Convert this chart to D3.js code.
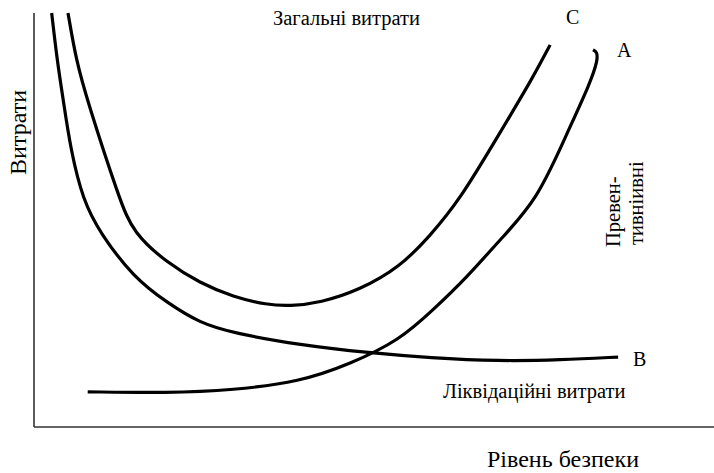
<!DOCTYPE html>
<html>
<head>
<meta charset="utf-8">
<script src="https://cdn.jsdelivr.net/npm/d3@7"></script>
</head>
<body style="margin:0">
<script>
// curve points, x = рівень безпеки (0..100), y = витрати (0..100)
var liqX = [2.6, 3.4, 4.3, 5.4, 7.2, 9.7, 14.6, 19.6, 24.4, 29.3, 39.1, 49.4, 58.2, 68.5, 77.4, 85.9];
var liqY = [100, 88.6, 79.0, 66.9, 54.8, 46.9, 36.2, 30.0, 25.1, 22.7, 19.8, 17.9, 16.7, 15.9, 16.2, 16.9];

var totX = [5.0, 6.2, 7.8, 12.6, 14.6, 19.6, 24.4, 29.3, 34.3, 37.6, 42.1, 47.9, 53.8, 58.2, 62.6, 68.5, 73.4, 75.9];
var totY = [100, 88.6, 79.0, 54.8, 46.9, 39.6, 34.8, 31.4, 29.5, 29.2, 30.0, 33.1, 38.6, 46.1, 54.8, 71.0, 84.5, 92.3];

var prevX = [7.9, 19.6, 29.3, 39.1, 46.5, 53.8, 58.7, 63.7, 68.5, 74.0, 78.4, 81.8, 82.9, 82.8, 82.2];
var prevY = [8.5, 8.2, 8.9, 10.9, 15.2, 21.0, 28.3, 36.2, 45.2, 54.8, 71.0, 83.1, 88.6, 90.6, 91.1];

var labels = ["Загальні витрати", "Ліквідаційні витрати", "Превен-", "тивніивні", "C", "A", "B"];
var axisTitles = ["Рівень безпеки", "Витрати"];

var W = 714, H = 473;
var svg = d3.select("body").append("svg").attr("width", W).attr("height", H);

var x = d3.scaleLinear().domain([0, 100]).range([34, 714]);
var y = d3.scaleLinear().domain([0, 100]).range([427, 13]);

// axis lines, no ticks
svg.append("line")
  .attr("x1", x(0)).attr("x2", x(100)).attr("y1", y(0)).attr("y2", y(0))
  .attr("stroke", "#333").attr("stroke-width", 1.6);
svg.append("line")
  .attr("x1", x(0)).attr("x2", x(0)).attr("y1", y(0)).attr("y2", y(100))
  .attr("stroke", "#333").attr("stroke-width", 1.6);

var line = d3.line().x(function(d){ return x(d[0]); }).y(function(d){ return y(d[1]); })
  .curve(d3.curveBasis);

[[liqX, liqY], [totX, totY], [prevX, prevY]].forEach(function(s){
  var pts = d3.zip(s[0], s[1]);
  svg.append("path").attr("d", line(pts))
    .attr("fill", "none").attr("stroke", "#000").attr("stroke-width", 3.2);
});

function txt(s, px, py, size, rot) {
  var t = svg.append("text")
    .attr("font-size", size)
    .style("font-family", "serif")
    .text(s);
  if (rot) t.attr("transform", "translate(" + px + "," + py + ") rotate(-90)");
  else t.attr("x", px).attr("y", py);
  return t;
}

txt(labels[0], 273, 25, 20.5);
txt(labels[4], 566, 24, 20);
txt(labels[5], 617, 57, 20);
txt(labels[6], 633, 366, 20);
txt(labels[1], 443, 398, 20.5);
txt(labels[2], 620, 247, 20.5, true);
txt(labels[3], 643, 245, 20.5, true);
txt(axisTitles[0], 487, 467, 24);
txt(axisTitles[1], 26, 175, 24, true);
</script>
</body>
</html>
